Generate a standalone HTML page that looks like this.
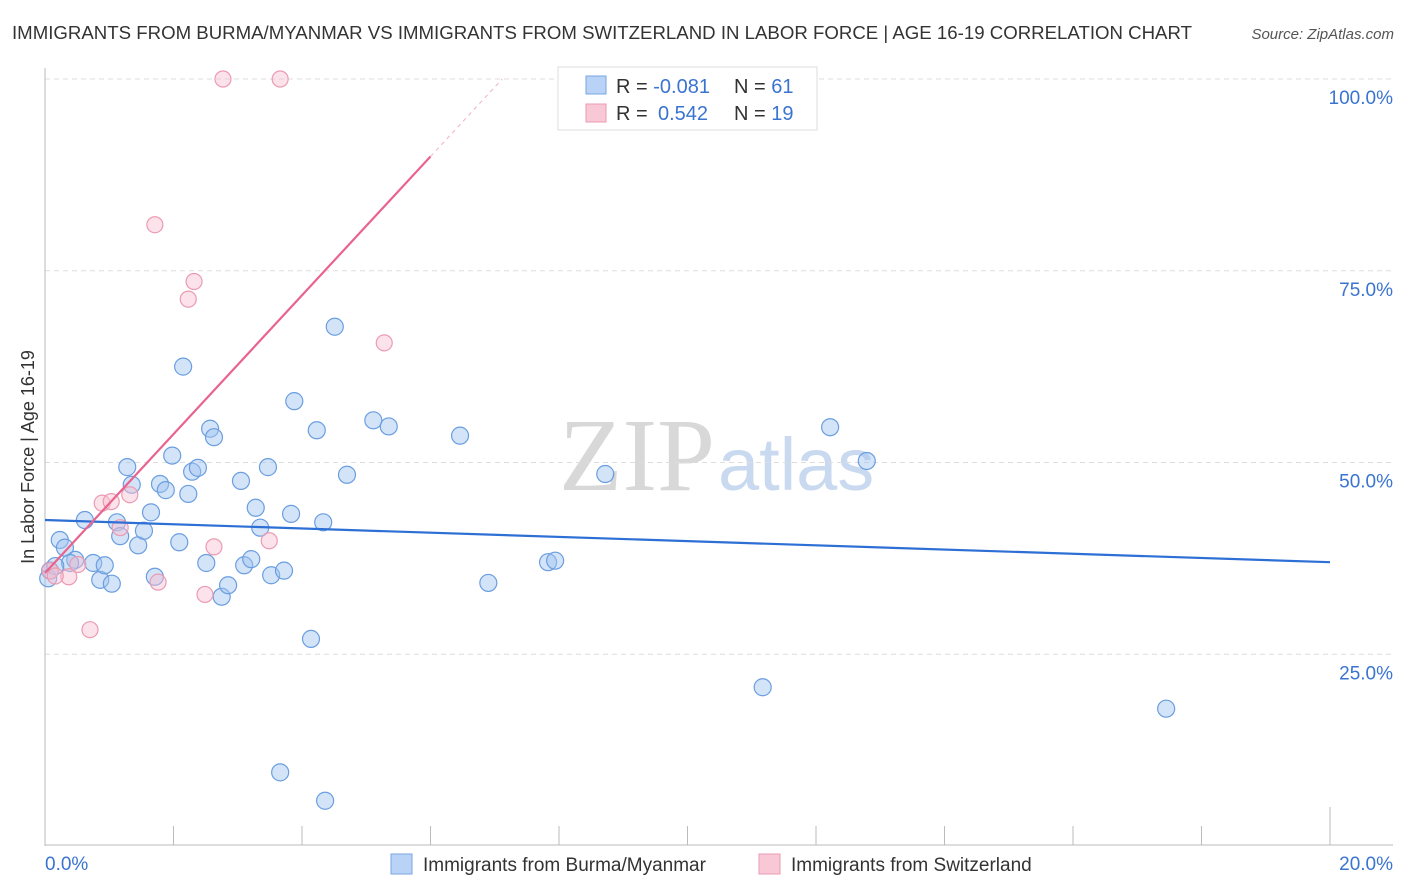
<!DOCTYPE html>
<html><head><meta charset="utf-8"><style>
body{margin:0;background:#fff;font-family:"Liberation Sans",sans-serif;}
#wrap{position:relative;width:1406px;height:892px;overflow:hidden;}
</style></head><body>
<div id="wrap">
<svg id="svg" width="1406" height="892" xmlns="http://www.w3.org/2000/svg">
<text x="12" y="39" font-size="18" fill="#333" textLength="1180" lengthAdjust="spacingAndGlyphs">IMMIGRANTS FROM BURMA/MYANMAR VS IMMIGRANTS FROM SWITZERLAND IN LABOR FORCE | AGE 16-19 CORRELATION CHART</text>
<text x="1394" y="39" font-size="15" fill="#555" font-style="italic" text-anchor="end">Source: ZipAtlas.com</text>
<text x="715" y="490" font-size="104" fill="#d8d8d8" text-anchor="end" font-family="Liberation Serif, serif">ZIP</text>
<text x="718" y="490" font-size="74" fill="#c9d9ef">atlas</text>
<text transform="translate(34,457) rotate(-90)" font-size="18" fill="#333" text-anchor="middle">In Labor Force | Age 16-19</text>
<g id="grid"></g><g id="marks"></g>
<g>
<rect x="558" y="67" width="259" height="63" fill="#fff" stroke="#ddd"/>
<rect x="586" y="76" width="20" height="18" fill="#b8d3f5" stroke="#7aa5e3"/>
<rect x="586" y="104" width="20" height="18" fill="#f8c8d6" stroke="#eb9bb2"/>
<text x="616" y="93" font-size="20" fill="#333">R = <tspan fill="#3a74d0">-0.081</tspan><tspan x="734">N = </tspan><tspan fill="#3a74d0">61</tspan></text>
<text x="616" y="120" font-size="20" fill="#333">R = <tspan x="658" fill="#3a74d0">0.542</tspan><tspan x="734">N = </tspan><tspan fill="#3a74d0">19</tspan></text>
</g>
<g>
<rect x="391" y="854" width="21" height="20" fill="#b8d3f5" stroke="#7aa5e3"/>
<text x="423" y="871" font-size="19" fill="#333">Immigrants from Burma/Myanmar</text>
<rect x="759" y="854" width="21" height="20" fill="#f8c8d6" stroke="#eb9bb2"/>
<text x="791" y="871" font-size="19" fill="#333">Immigrants from Switzerland</text>
</g>
</svg>
</div>
<script>
const yTicks=[25,50,75,100];
const yTickLabels=["25.0%","50.0%","75.0%","100.0%"];
const xTickValues=[0,2,4,6,8,10,12,14,16,18,20];
const xEndLabels=["0.0%","20.0%"];
const burmaX=[0.23,0.31,0.47,0.62,0.75,0.86,0.93,1.04,1.12,1.17,1.28,1.35,1.45,1.54,1.65,1.71,1.79,1.88,1.98,2.09,2.15,2.23,2.29,2.38,2.51,2.57,2.63,2.75,2.85,3.05,3.10,3.21,3.28,3.35,3.47,3.52,3.72,3.83,3.88,4.14,4.23,4.33,4.51,4.70,5.11,5.35,6.46,6.90,7.83,7.94,8.72,11.17,12.22,12.79,17.45,3.66,4.36,0.08,0.05,0.39,0.16];
const burmaY=[39.9,38.9,37.3,42.5,36.9,34.7,36.6,34.2,42.2,40.4,49.4,47.1,39.2,41.1,43.5,35.1,47.2,46.4,50.9,39.6,62.5,45.9,48.8,49.3,36.9,54.4,53.3,32.5,34.0,47.6,36.6,37.4,44.1,41.5,49.4,35.3,35.9,43.3,58.0,27.0,54.2,42.2,67.7,48.4,55.5,54.7,53.5,34.3,37.0,37.2,48.5,20.7,54.6,50.2,17.9,9.6,5.9,35.9,34.9,36.9,36.5];
const swissX=[2.77,3.66,1.71,2.32,2.23,5.28,0.89,1.03,1.32,1.17,3.49,2.63,0.51,0.37,1.76,2.49,0.70,0.08,0.16];
const swissY=[100,100,81.0,73.6,71.3,65.6,44.7,44.9,45.8,41.5,39.8,39.0,36.7,35.1,34.4,32.8,28.2,35.9,35.2];
const burmaTrend=[42.5,37.0];
const swissIntercept=35.6, swissSlope=9.05;
const NS="http://www.w3.org/2000/svg";
const X=v=>45+v/20*1285;
const Y=v=>846-v/100*767;
function mk(tag,attrs,parent){const e=document.createElementNS(NS,tag);for(const k in attrs)e.setAttribute(k,attrs[k]);parent.appendChild(e);return e;}
const grid=document.getElementById('grid'),marks=document.getElementById('marks');
yTicks.forEach((t,i)=>{
 const l=mk('line',{x1:45,x2:1393,y1:Y(t),y2:Y(t),stroke:'#ddd','stroke-dasharray':'5,4'},grid);
 
 
 const tx=mk('text',{x:1393,y:Y(t)+25,'font-size':19,fill:'#3a74d0','text-anchor':'end'},grid);
 tx.textContent=yTickLabels[i];
 
 
});
const ax=mk('line',{x1:45,x2:45,y1:68,y2:846,stroke:'#bbb'},grid);


const bx=mk('line',{x1:45,x2:1393,y1:845,y2:845,stroke:'#bbb'},grid);


xTickValues.forEach((v,i)=>{
 const tall=(i===0||i===xTickValues.length-1);
 const t=mk('line',{x1:X(v),x2:X(v),y1:tall?807:826,y2:845,stroke:'#bbb'},grid);
 
 
});
const xl0=mk('text',{x:45,y:870,'font-size':19,fill:'#3a74d0'},grid);xl0.textContent=xEndLabels[0];


const xl1=mk('text',{x:1393,y:870,'font-size':19,fill:'#3a74d0','text-anchor':'end'},grid);xl1.textContent=xEndLabels[1];


burmaX.forEach((x,i)=>{
 const c=mk('circle',{cx:X(x),cy:Y(burmaY[i]),r:8.5,fill:'rgba(160,196,240,0.45)',stroke:'#6a9ee0','stroke-width':1.2},marks);
 
 
});
swissX.forEach((x,i)=>{
 const c=mk('circle',{cx:X(x),cy:Y(swissY[i]),r:8,fill:'rgba(248,190,208,0.45)',stroke:'#eb9bb2','stroke-width':1.2},marks);
 
 
});
const bt=mk('line',{x1:X(0),y1:Y(burmaTrend[0]),x2:X(20),y2:Y(burmaTrend[1]),stroke:'#2d6fd4','stroke-width':2.2},marks);


const xs=6.0, xe=(100-swissIntercept)/swissSlope;
const st=mk('line',{x1:X(0),y1:Y(swissIntercept),x2:X(xs),y2:Y(swissIntercept+swissSlope*xs),stroke:'#e8648f','stroke-width':2.2},marks);


const sd=mk('line',{x1:X(xs),y1:Y(swissIntercept+swissSlope*xs),x2:X(xe),y2:Y(100),stroke:'#f0b0c4','stroke-width':1,'stroke-dasharray':'4,4'},marks);


</script>
</body></html>
